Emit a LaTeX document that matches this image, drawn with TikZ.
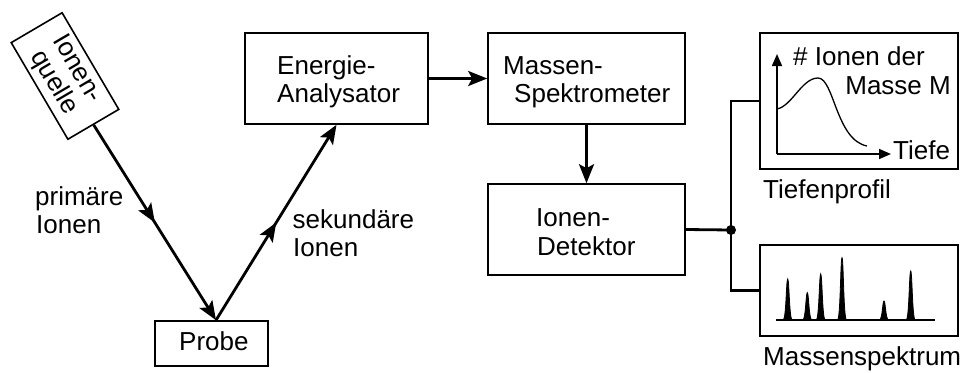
\documentclass[tikz,border=0pt]{standalone}
\usepackage{fontspec}
\setmainfont{Liberation Sans}
\usetikzlibrary{arrows.meta,decorations.markings,calc}

\tikzset{
  txt/.style={inner sep=0pt, font=\fontsize{26}{28}\selectfont},
  box/.style={draw, line width=1.6pt, inner sep=0pt},
  flow/.style={line width=2.8pt, -{Stealth[length=19pt,width=15pt,inset=4pt]}},
  midarrow/.style={postaction={decorate, decoration={markings,
      mark=at position 0.5 with {\arrow{Stealth[length=19pt,width=15pt,inset=4pt]}}}}},
  wire/.style={line width=2.8pt},
  axis/.style={line width=1.6pt, -{Triangle[length=12pt,width=10pt]}},
  peak/.style={fill=black, draw=black, line width=0.8pt},
}

\begin{document}
\begin{tikzpicture}[x=1pt, y=-1pt]
  \useasboundingbox (0,0) rectangle (965,372);

  % ion source (tilted)
  \node[box, rotate=-59.6, minimum width=112pt, minimum height=59pt,
        font=\fontsize{26}{27}\selectfont, align=center] (src) at (65,76) {Ionen-\\quelle};

  % sample
  \node[box, minimum width=113pt, minimum height=45pt] (probe) at (211.5,343.5) {};
  \node[txt, anchor=base west] (probet) at (179,350) {Probe};
  \coordinate (hit) at ([xshift=4.5pt]probe.north);

  % energy analyser
  \node[box, minimum width=183pt, minimum height=91pt] (ea) at (336.5,78.5) {};
  \node[txt, anchor=base west] (ea1) at (277,74.5) {Energie-};
  \node[txt, anchor=base west] (ea2) at (277,102.5) {Analysator};

  % mass spectrometer
  \node[box, minimum width=197pt, minimum height=91pt] (ms) at (586.5,78.5) {};
  \node[txt, anchor=base west] (ms1) at (503,74.5) {Massen-};
  \node[txt, anchor=base west] (ms2) at (514,102.5) {Spektrometer};

  % ion detector
  \node[box, minimum width=197pt, minimum height=91pt] (det) at (586.5,229.5) {};
  \node[txt, anchor=base west] (det1) at (536,226.5) {Ionen-};
  \node[txt, anchor=base west] (det2) at (537,255) {Detektor};

  % depth profile panel
  \node[box, minimum width=198pt, minimum height=136pt] (tp) at (859,101) {};
  \node[txt, anchor=base west] (tpl) at (763,198) {Tiefenprofil};

  % mass spectrum panel
  \node[box, minimum width=198pt, minimum height=91pt] (sp) at (859,290.5) {};
  \node[txt, anchor=base west] (spl) at (763,365.5) {Massenspektrum};

  % beam paths
  \draw[flow, midarrow] (src.east) -- (hit);
  \draw[flow, midarrow] (hit) -- (ea.south);
  \node[txt, anchor=base west] (pl1) at (35,205) {primäre};
  \node[txt, anchor=base west] (pl2) at (36,233) {Ionen};
  \node[txt, anchor=base west] (sl1) at (292.5,228.5) {sekundäre};
  \node[txt, anchor=base west] (sl2) at (293,256) {Ionen};

  \draw[flow] (ea.east) -- (ms.west);
  \draw[flow] (ms.south) -- (det.north);

  % detector output split
  \coordinate (junc) at (731,230);
  \draw[wire] (det.east) -- (junc);
  \draw[wire] (junc) |- (tp.west);
  \draw[wire] (junc) |- (sp.west);
  \fill (junc) circle (5pt);

  % depth profile plot
  \coordinate (org) at (777,154);
  \draw[axis] (org) -- (777,54);
  \draw[axis] (org) -- (891,154);
  \draw[line width=1.3pt] (777,109) .. controls (792,106) and (802,78) .. (818,78)
                         .. controls (834,78) and (836,140) .. (867,146);
  \node[txt, anchor=base west] (yl1) at (793,65) {\# Ionen der};
  \node[txt, anchor=base east] (yl2) at (951,94) {Masse M};
  \node[txt, anchor=base west] (xl) at (893,159) {Tiefe};

  % mass spectrum trace
  \draw[line width=1.6pt] (776,320) -- (935,320);
  \foreach \px/\py in {787.7/279, 807.3/292.7, 820.7/274, 842/257.7, 884/301, 910.7/271} {
    \draw[peak] (\px-4.5,320) .. controls (\px-1.5,319) and (\px-1.5,\py) .. (\px,\py)
                .. controls (\px+1.5,\py) and (\px+1.5,319) .. (\px+4.5,320) -- cycle;
  }
\end{tikzpicture}
\end{document}
